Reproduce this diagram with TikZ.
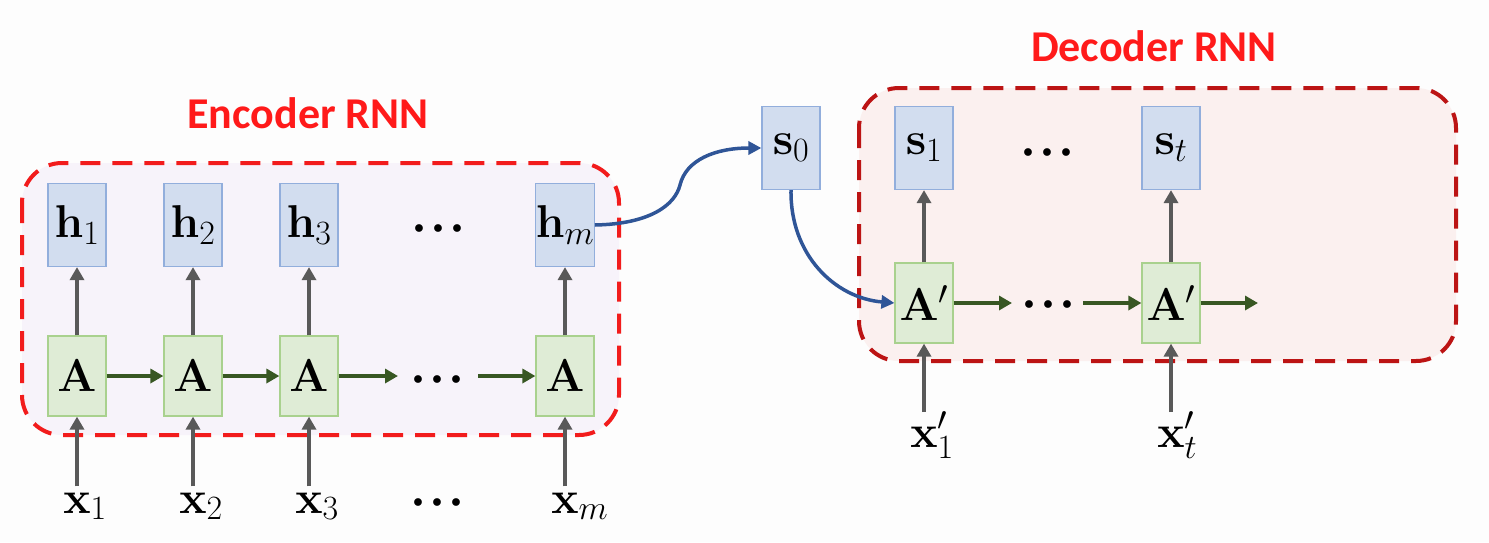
\RequirePackage{fix-cm}
\documentclass[tikz,border=0pt]{standalone}
\usepackage[no-math]{fontspec}
\usepackage{amsmath}
\usetikzlibrary{arrows.meta}
\newfontfamily\titlefont{Carlito}
\DeclareMathSizes{46}{46}{34}{24}
\newcommand\msz{\fontsize{46}{50}\selectfont}
\newcommand\dsz{\fontsize{20}{24}\selectfont}
\newcommand\threedots{$\bullet$\kern9pt$\bullet$\kern9pt$\bullet$}
\definecolor{encred}{HTML}{F21C1C}
\definecolor{decred}{HTML}{BC1414}
\definecolor{titlered}{HTML}{FF1A1A}
\definecolor{encfill}{HTML}{F7F3FA}
\definecolor{decfill}{HTML}{FBF0EF}
\definecolor{fillblue}{HTML}{D2DDEF}
\definecolor{boxblue}{HTML}{92AEDC}
\definecolor{fillgreen}{HTML}{DFECD6}
\definecolor{boxgreen}{HTML}{A9D18E}
\definecolor{arrgray}{HTML}{595959}
\definecolor{arrgreen}{HTML}{385723}
\definecolor{arrblue}{HTML}{2F5597}
\definecolor{bg}{HTML}{FDFDFD}
\begin{document}
\begin{tikzpicture}[x=1pt,y=-1pt,
  hbox/.style={draw=boxblue, fill=fillblue, line width=1.2pt, minimum width=58pt, minimum height=83pt, inner sep=0pt, font=\msz},
  abox/.style={draw=boxgreen, fill=fillgreen, line width=1.2pt, minimum width=58pt, minimum height=80pt, inner sep=0pt, font=\msz},
  upar/.style={draw=arrgray, line width=4.5pt, -{Triangle[length=13pt,width=14pt]}},
  rtar/.style={draw=arrgreen, line width=4pt, -{Triangle[length=13pt,width=14pt]}},
  bluear/.style={draw=arrblue, line width=3.5pt, -{Triangle[length=13pt,width=13pt]}},
  lbl/.style={font=\msz, inner sep=2pt, anchor=base},
  dotsn/.style={font=\dsz, inner sep=0pt, anchor=base},
  title/.style={font=\titlefont\bfseries\fontsize{44}{48}\selectfont, text=titlered, inner sep=0pt},
  encbox/.style={draw=encred, fill=encfill, line width=4pt, dash pattern=on 20pt off 12pt, rounded corners=40pt},
  decbox/.style={draw=decred, fill=decfill, line width=4pt, dash pattern=on 20pt off 12pt, rounded corners=40pt}]
\fill[bg] (0,0) rectangle (1489,542);
\useasboundingbox (0,0) rectangle (1489,542);

% containers
\draw[encbox] (22,163) rectangle (619,435);
\draw[decbox] (859,88) rectangle (1456,361);

% titles
\node[title] (enctitle) at (308,113) {Encoder RNN};
\node[title] (dectitle) at (1154,46) {Decoder RNN};

% encoder
\node[hbox] (h1) at (77,225) {$\mathbf{h}_1$};
\node[hbox] (h2) at (193,225) {$\mathbf{h}_2$};
\node[hbox] (h3) at (309,225) {$\mathbf{h}_3$};
\node[hbox] (hm) at (565,225) {$\mathbf{h}_m$};
\node[abox] (a1) at (77,376) {$\mathbf{A}$};
\node[abox] (a2) at (193,376) {$\mathbf{A}$};
\node[abox] (a3) at (309,376) {$\mathbf{A}$};
\node[abox] (am) at (565,376) {$\mathbf{A}$};
\node[dotsn] (dtop) at (438,233) {\threedots};
\node[dotsn] (dmid) at (437,384) {\threedots};
\node[dotsn] (dbot) at (437,507) {\threedots};
\node[lbl] (x1) at (77,513) {$\mathbf{x}\rlap{$_1$}$};
\node[lbl] (x2) at (193,513) {$\mathbf{x}\rlap{$_2$}$};
\node[lbl] (x3) at (309,513) {$\mathbf{x}\rlap{$_3$}$};
\node[lbl] (xm) at (565,513) {$\mathbf{x}\rlap{$_m$}$};
\coordinate (e3) at (398,376);
\coordinate (sm) at (478,376);

\foreach \i in {1,2,3,m}{
  \draw[upar] (a\i.north) -- (h\i.south);
  \draw[upar, shorten <=4pt] (x\i.north) -- (a\i.south);
}
\draw[rtar] (a1.east) -- (a2.west);
\draw[rtar] (a2.east) -- (a3.west);
\draw[rtar] (a3.east) -- (e3);
\draw[rtar] (sm) -- (am.west);

% s0
\node[hbox] (s0) at (791,148) {$\mathbf{s}_0$};

% decoder
\node[hbox] (s1) at (924,148) {$\mathbf{s}_1$};
\node[hbox] (st) at (1171,148) {$\mathbf{s}_t$};
\node[abox] (d1) at (924,303) {$\mathbf{A}'$};
\node[abox] (dt) at (1171,303) {$\mathbf{A}'$};
\node[dotsn] (ddtop) at (1047,157) {\threedots};
\node[dotsn] (ddmid) at (1048,309) {\threedots};
\node[lbl] (xd1) at (924,447) {$\mathbf{x}\rlap{$'_1$}$};
\node[lbl] (xdt) at (1171,447) {$\mathbf{x}\rlap{$'_t$}$};
\coordinate (f1) at (1012,303);
\coordinate (g1) at (1083,303);
\coordinate (ft) at (1258,303);
\foreach \i in {1,t}{
  \draw[upar] (d\i.north) -- (s\i.south);
}
\draw[upar] (924,412) -- (d1.south);
\draw[upar] (1171,412) -- (dt.south);
\draw[rtar] (d1.east) -- (f1);
\draw[rtar] (g1) -- (dt.west);
\draw[rtar] (dt.east) -- (ft);

% blue curves
\draw[bluear] (hm.east) .. controls (650,224) and (675,205) .. (680,185)
  .. controls (686,160) and (715,148) .. (s0.west);
\draw[bluear] (s0.south) .. controls (790,255) and (835,298) .. (d1.west);
\end{tikzpicture}
\end{document}
